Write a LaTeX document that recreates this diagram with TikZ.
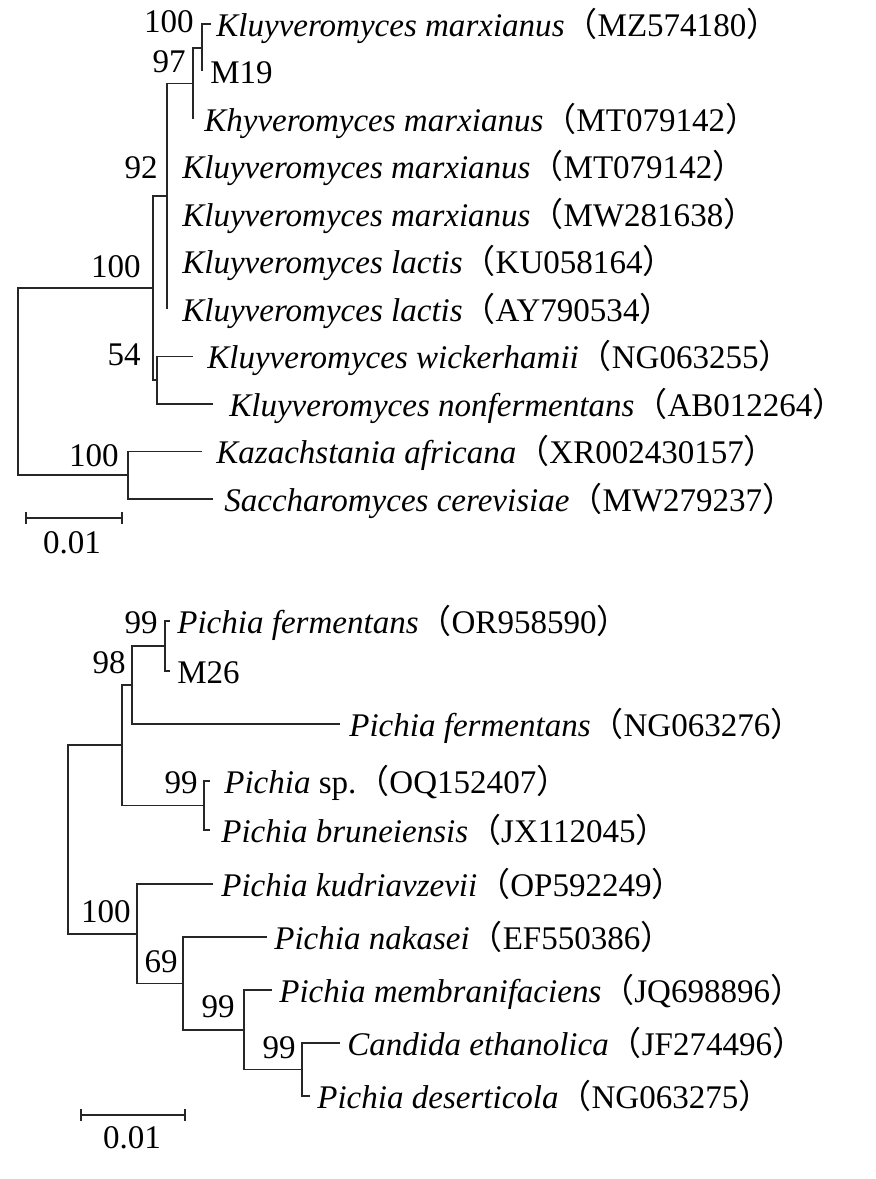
\documentclass[tikz,border=0pt]{standalone}
\usepackage{fontspec}
\setmainfont{Liberation Serif}
\newfontfamily\cjk{Noto Sans CJK SC}
\usetikzlibrary{arrows.meta}
\newcommand{\accno}[1]{{\cjk （}#1{\cjk ）}}

\begin{document}
\begin{tikzpicture}[x=0.02cm, y=-0.02cm,
  branch/.style={line width=0.9pt, black!85},
  taxon/.style={anchor=west, inner sep=0pt, text height=15.5pt, text depth=1.5pt, font=\fontsize{18.8}{22}\selectfont},
  boot/.style={anchor=east, inner sep=0pt, font=\fontsize{18.8}{22}\selectfont},
  scalebar/.style={line width=0.9pt, black!85, {Bar[width=7pt]}-{Bar[width=7pt]}}]

\useasboundingbox (0,0) rectangle (875,1179);

% Kluyveromyces tree
\coordinate (t1) at (211,24);
\coordinate (t2) at (202,71.5);
\coordinate (t3) at (193,119);
\coordinate (t4) at (167,166.5);
\coordinate (t5) at (167,214);
\coordinate (t6) at (167,261.5);
\coordinate (t7) at (167,309);
\coordinate (t8) at (193,356.5);
\coordinate (t9) at (213,404);
\coordinate (t10) at (202,451.5);
\coordinate (t11) at (213,499);

\coordinate (k1) at (202,47.75);
\coordinate (k2) at (193,83.4);
\coordinate (k3) at (167,196.2);
\coordinate (k5) at (157,380.25);
\coordinate (k4) at (153,288.2);
\coordinate (k6) at (128,475.25);
\coordinate (kr) at (18,381.7);

\draw[branch] (t1) -| (k1) |- (t2);
\draw[branch] (k1) -| (k2) |- (t3);
\draw[branch] (k2) -| (k3) |- (t7);
\draw[branch] (t8) -| (k5) |- (t9);
\draw[branch] (k3) -| (k4) |- (k5);
\draw[branch] (t10) -| (k6) |- (t11);
\draw[branch] (k4) -| (kr) |- (k6);

\node[taxon] (l1) at (216,24) {\textit{Kluyveromyces marxianus}\accno{MZ574180}};
\node[taxon] (l2) at (210,71.5) {M19};
\node[taxon] (l3) at (204,119) {\textit{Khyveromyces marxianus}\accno{MT079142}};
\node[taxon] (l4) at (182,166.5) {\textit{Kluyveromyces marxianus}\accno{MT079142}};
\node[taxon] (l5) at (182,214) {\textit{Kluyveromyces marxianus}\accno{MW281638}};
\node[taxon] (l6) at (182,261.5) {\textit{Kluyveromyces lactis}\accno{KU058164}};
\node[taxon] (l7) at (182,309) {\textit{Kluyveromyces lactis}\accno{AY790534}};
\node[taxon] (l8) at (207,356.5) {\textit{Kluyveromyces wickerhamii}\accno{NG063255}};
\node[taxon] (l9) at (229,404) {\textit{Kluyveromyces nonfermentans}\accno{AB012264}};
\node[taxon] (l10) at (216,451.5) {\textit{Kazachstania africana}\accno{XR002430157}};
\node[taxon] (l11) at (224,499) {\textit{Saccharomyces cerevisiae}\accno{MW279237}};

\node[boot] (bk1) at (194,22) {100};
\node[boot] (bk2) at (186,62) {97};
\node[boot] (bk3) at (158,168) {92};
\node[boot] (bk4) at (141,267) {100};
\node[boot] (bk5) at (141,355) {54};
\node[boot] (bk6) at (119,456) {100};

\coordinate (ka) at (25,518);
\coordinate (kb) at (123,518);
\draw[scalebar] (ka) -- (kb);
\node[boot, anchor=center] (ks) at (72,543) {0.01};

% Pichia tree
\coordinate (p1) at (170,621);
\coordinate (p2) at (170,671);
\coordinate (p3) at (340,724);
\coordinate (p4) at (210,781);
\coordinate (p5) at (210,830);
\coordinate (p6) at (213,884);
\coordinate (p7) at (267,937);
\coordinate (p8) at (272,990);
\coordinate (p9) at (340,1043);
\coordinate (p10) at (310,1096);

\coordinate (q1) at (165,646);
\coordinate (q2) at (132,685);
\coordinate (q3) at (204,805.5);
\coordinate (q4) at (122,745);
\coordinate (q5) at (302,1069.5);
\coordinate (q6) at (244,1029.75);
\coordinate (q7) at (183,983.4);
\coordinate (q8) at (137,933.7);
\coordinate (qr) at (68,839);

\draw[branch] (p1) -| (q1) |- (p2);
\draw[branch] (q1) -| (q2) |- (p3);
\draw[branch] (p4) -| (q3) |- (p5);
\draw[branch] (q2) -| (q4) |- (q3);
\draw[branch] (p9) -| (q5) |- (p10);
\draw[branch] (p8) -| (q6) |- (q5);
\draw[branch] (p7) -| (q7) |- (q6);
\draw[branch] (p6) -| (q8) |- (q7);
\draw[branch] (q4) -| (qr) |- (q8);

\node[taxon] (m1) at (177,621) {\textit{Pichia fermentans}\accno{OR958590}};
\node[taxon] (m2) at (177,671) {M26};
\node[taxon] (m3) at (349,724) {\textit{Pichia fermentans}\accno{NG063276}};
\node[taxon] (m4) at (224,781) {\textit{Pichia} sp.\accno{OQ152407}};
\node[taxon] (m5) at (221,830) {\textit{Pichia bruneiensis}\accno{JX112045}};
\node[taxon] (m6) at (221,884) {\textit{Pichia kudriavzevii}\accno{OP592249}};
\node[taxon] (m7) at (274,937) {\textit{Pichia nakasei}\accno{EF550386}};
\node[taxon] (m8) at (279,990) {\textit{Pichia membranifaciens}\accno{JQ698896}};
\node[taxon] (m9) at (347,1043) {\textit{Candida ethanolica}\accno{JF274496}};
\node[taxon] (m10) at (317,1096) {\textit{Pichia deserticola}\accno{NG063275}};

\node[boot] (bq1) at (158,623) {99};
\node[boot] (bq2) at (126,663) {98};
\node[boot] (bq3) at (198,783) {99};
\node[boot] (bq8) at (131,912) {100};
\node[boot] (bq7) at (178,962) {69};
\node[boot] (bq6) at (235,1007) {99};
\node[boot] (bq5) at (296,1048) {99};

\coordinate (qa) at (80,1115);
\coordinate (qb) at (186,1115);
\draw[scalebar] (qa) -- (qb);
\node[boot, anchor=center] (qs) at (132,1138) {0.01};
\end{tikzpicture}
\end{document}
